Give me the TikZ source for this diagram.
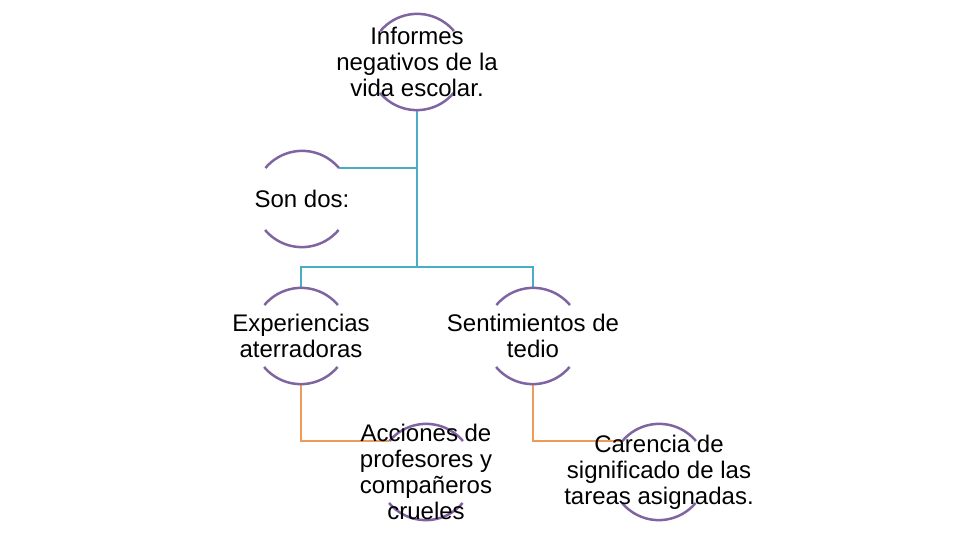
\documentclass[tikz,border=0pt]{standalone}
\usepackage{fontspec}
\setmainfont{Liberation Sans}
\definecolor{ringc}{HTML}{8064A2}
\definecolor{tealc}{HTML}{4BACC6}
\definecolor{orangec}{RGB}{236,156,88}
\begin{document}
\begin{tikzpicture}[x=1pt, y=1pt,
    ring/.style={circle, minimum size=96pt, inner sep=0pt},
    txt/.style={align=center, font=\fontsize{24}{26}\selectfont, inner sep=0pt},
    tline/.style={tealc, line width=2.5pt},
    oline/.style={orangec, line width=2.5pt},
    arcline/.style={ringc, line width=2.5pt}]
  \useasboundingbox (0,0) rectangle (960,540);
  \node[ring] (inf) at (417,478) {};
  \node[ring] (son) at (302,341) {};
  \node[ring] (exp) at (301,204) {};
  \node[ring] (sen) at (533,204) {};
  \node[ring] (acc) at (426,68) {};
  \node[ring] (car) at (659,68) {};
  \coordinate (fork) at (417,273);
  \draw[tline] (inf.south) -- (fork);
  \draw[tline] (son.40) -- (son.40 -| fork);
  \draw[tline] (exp.north) |- (fork) -| (sen.north);
  \draw[oline] (exp.south) |- (acc.140);
  \draw[oline] (sen.south) |- (car.140);
  \foreach \n in {inf,son,exp,sen,acc,car}
    \draw[arcline] (\n.40) arc[start angle=40, end angle=140, radius=48pt]
                   (\n.220) arc[start angle=220, end angle=320, radius=48pt];
  \node[txt] (inf-t) at (inf.center) {Informes\\negativos de la\\vida escolar.};
  \node[txt] (son-t) at (son.center) {Son dos:};
  \node[txt] (exp-t) at (exp.center) {Experiencias\\aterradoras};
  \node[txt] (sen-t) at (sen.center) {Sentimientos de\\tedio};
  \node[txt] (acc-t) at (acc.center) {Acciones de\\profesores y\\compañeros\\crueles};
  \node[txt] (car-t) at (car.center) {Carencia de\\significado de las\\tareas asignadas.};
\end{tikzpicture}
\end{document}
